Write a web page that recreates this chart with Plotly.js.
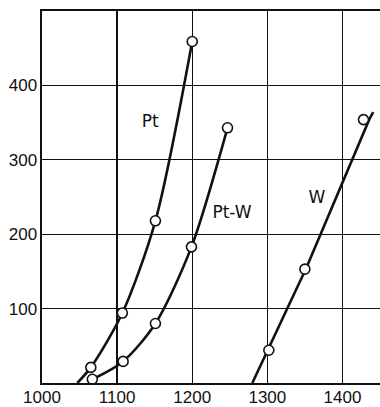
<!DOCTYPE html>
<html>
<head>
<meta charset="utf-8">
<script src="https://cdn.plot.ly/plotly-3.0.1.min.js"></script>
<style>html,body{margin:0;padding:0;background:#fff;}#chart{width:380px;height:407px;}</style>
</head>
<body>
<div id="chart"></div>
<script>
// Data points (open circles)
const ptX = [1065, 1107, 1151, 1200];
const ptY = [21, 94, 218, 459];
const ptwX = [1067, 1108, 1151, 1199, 1247];
const ptwY = [5, 29, 80, 183, 343];
const wX = [1302, 1350, 1428];
const wY = [44, 153, 354];

// Drawn curves
const ptCurveX = [1047, 1065, 1107, 1151, 1200];
const ptCurveY = [0, 21, 94, 218, 459];
const ptwCurveX = [1067, 1108, 1151, 1199, 1247];
const ptwCurveY = [5, 29, 80, 183, 343];
const wCurveX = [1280, 1302, 1352, 1436, 1441];
const wCurveY = [0, 47, 155, 355, 364];

// Ticks
const xTicks = [1000, 1100, 1200, 1300, 1400];
const yTicks = [100, 200, 300, 400];

// Curve labels
const labelText = ["Pt", "Pt-W", "W"];
const labelX = [1144, 1253, 1366];
const labelY = [350, 227, 247];

const lineStyle = {color: '#111', width: 2.6, shape: 'spline', smoothing: 0.8};
const markerStyle = {symbol: 'circle', size: 10, color: '#fff', line: {color: '#111', width: 1.6}};

const traces = [
  {x: ptCurveX, y: ptCurveY, mode: 'lines', line: lineStyle, hoverinfo: 'skip'},
  {x: ptwCurveX, y: ptwCurveY, mode: 'lines', line: lineStyle, hoverinfo: 'skip'},
  {x: wCurveX, y: wCurveY, mode: 'lines', line: Object.assign({}, lineStyle, {shape: 'linear'}), hoverinfo: 'skip'},
  {x: ptX, y: ptY, mode: 'markers', marker: markerStyle},
  {x: ptwX, y: ptwY, mode: 'markers', marker: markerStyle},
  {x: wX, y: wY, mode: 'markers', marker: markerStyle},
  {x: labelX, y: labelY, text: labelText, mode: 'text', textposition: 'middle center',
   textfont: {family: 'DejaVu Sans, sans-serif', size: 17, color: '#111'}, hoverinfo: 'skip'}
];

const axisFont = {family: 'Liberation Sans, Arial, sans-serif', size: 17, color: '#111'};

const layout = {
  width: 380, height: 407,
  margin: {l: 42, r: 0, t: 11, b: 24, pad: 0},
  paper_bgcolor: '#fff', plot_bgcolor: '#fff',
  showlegend: false,
  xaxis: {
    range: [1000, 1450], tickvals: xTicks, ticktext: xTicks.map(String),
    showgrid: true, gridcolor: '#111', gridwidth: 1.3,
    showline: true, linecolor: '#111', linewidth: 2.4, mirror: true,
    ticks: '', ticklabelstandoff: -3, zeroline: false, tickfont: axisFont, fixedrange: true
  },
  yaxis: {
    range: [0, 500], tickvals: yTicks, ticktext: yTicks.map(String),
    showgrid: true, gridcolor: '#111', gridwidth: 1.3,
    showline: true, linecolor: '#111', linewidth: 2.4,
    ticks: '', ticklabelstandoff: -1, zeroline: false, tickfont: axisFont, fixedrange: true
  }
};

Plotly.newPlot('chart', traces, layout, {displayModeBar: false, staticPlot: true});
</script>
</body>
</html>
